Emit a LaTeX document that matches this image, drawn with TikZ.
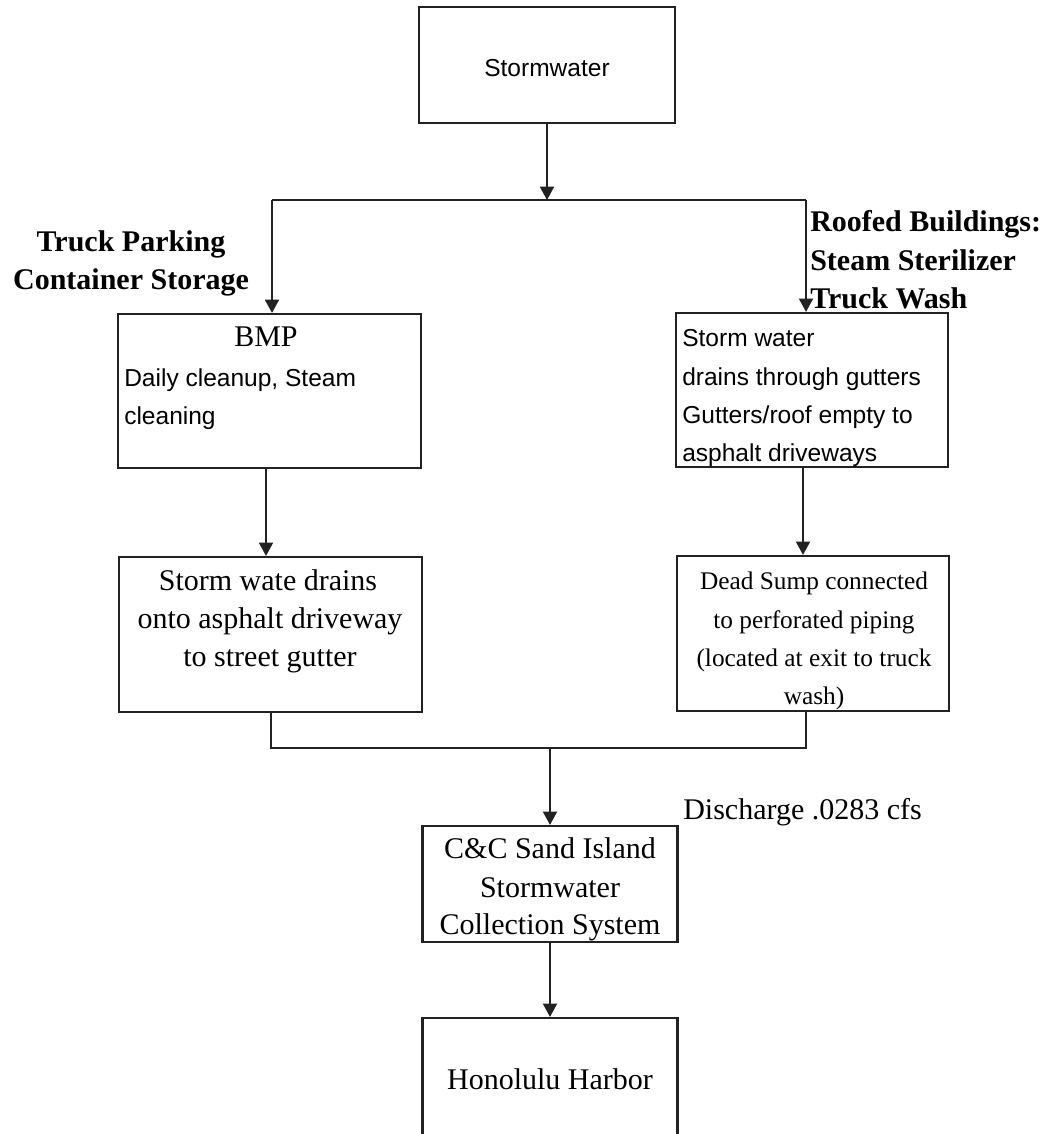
\documentclass[tikz,border=0pt]{standalone}
\usepackage{fontspec}
\setmainfont{Liberation Serif}
\setsansfont{Liberation Sans}
\usetikzlibrary{arrows.meta}
\definecolor{ink}{RGB}{34,34,34}
\tikzset{
  box/.style={draw=ink, line width=1.6pt, inner sep=0pt},
  conn/.style={draw=ink, line width=1.4pt},
  arr/.style={conn, -{Triangle[width=10.5pt,length=10pt]}},
  txt/.style={inner sep=0pt, yshift=-4.5pt},
  serif/.style={txt, font=\fontsize{22.5}{28.5}\selectfont\rmfamily},
  serifsm/.style={txt, font=\fontsize{19}{28.5}\selectfont\rmfamily},
  sans/.style={txt, font=\fontsize{18.4}{28.5}\selectfont\sffamily},
  boldlbl/.style={txt, font=\fontsize{22.5}{28.5}\selectfont\rmfamily\bfseries},
}
\begin{document}
\begin{tikzpicture}[x=0.75pt, y=-0.75pt]
\useasboundingbox (0,0) rectangle (1049,1134);
% boxes
\node[box, minimum width=256*0.75pt, minimum height=116*0.75pt] (top) at (547,65) {};
\node[box, minimum width=303*0.75pt, minimum height=154*0.75pt] (bmp) at (269.5,391) {};
\node[box, minimum width=272*0.75pt, minimum height=154*0.75pt] (roof) at (812,390) {};
\node[box, minimum width=303*0.75pt, minimum height=155*0.75pt] (drive) at (270.5,634.5) {};
\node[box, minimum width=272*0.75pt, minimum height=155*0.75pt] (sump) at (813,633.5) {};
\node[box, minimum width=255*0.75pt, minimum height=116*0.75pt] (cc) at (550,884) {};
\node[box, minimum width=255*0.75pt, minimum height=118*0.75pt] (harbor) at (550,1077) {};
% texts
\node[sans, anchor=mid] (topT) at (547,67) {Stormwater};
\node[boldlbl, anchor=mid] (lblL1) at (131,242) {Truck Parking};
\node[boldlbl, anchor=mid] (lblL2) at (131,280) {Container Storage};
\node[boldlbl, anchor=mid west] (lblR1) at (810,222) {Roofed Buildings:};
\node[boldlbl, anchor=mid west] (lblR2) at (810,261) {Steam Sterilizer};
\node[boldlbl, anchor=mid west] (lblR3) at (810,299) {Truck Wash};
\node[serif, anchor=mid] (bmpT1) at (266,337) {BMP};
\node[sans, anchor=mid west] (bmpT2) at (124,377) {Daily cleanup, Steam};
\node[sans, anchor=mid west] (bmpT3) at (124,415) {cleaning};
\node[sans, anchor=mid west] (roofT1) at (682,337) {Storm water};
\node[sans, anchor=mid west] (roofT2) at (682,376) {drains through gutters};
\node[sans, anchor=mid west] (roofT3) at (682,414) {Gutters/roof empty to};
\node[sans, anchor=mid west] (roofT4) at (682,452) {asphalt driveways};
\node[serif, anchor=mid] (driveT1) at (268,581) {Storm wate drains};
\node[serif, anchor=mid] (driveT2) at (270,619) {onto asphalt driveway};
\node[serif, anchor=mid] (driveT3) at (270,657) {to street gutter};
\node[serifsm, anchor=mid] (sumpT1) at (814,580) {Dead Sump connected};
\node[serifsm, anchor=mid] (sumpT2) at (814,619) {to perforated piping};
\node[serifsm, anchor=mid] (sumpT3) at (814,657) {(located at exit to truck};
\node[serifsm, anchor=mid] (sumpT4) at (814,695) {wash)};
\node[serif, anchor=mid west] (dis) at (683,810) {Discharge .0283 cfs};
\node[serif, anchor=mid] (ccT1) at (550,849) {C\&C Sand Island};
\node[serif, anchor=mid] (ccT2) at (550,888) {Stormwater};
\node[serif, anchor=mid] (ccT3) at (550,925) {Collection System};
\node[serif, anchor=mid] (harborT) at (550,1080) {Honolulu Harbor};
% connectors
\coordinate (jl) at (272,200);
\coordinate (jr) at (806,200);
\coordinate (jm) at (547,200);
\coordinate (bl) at (271,748);
\coordinate (br) at (806,748);
\coordinate (bm) at (550,748);
\draw[arr] (top.south) -- (jm);
\draw[conn] (jl) -- (jr);
\draw[arr] (jl) -- (jl |- bmp.north);
\draw[arr] (jr) -- (jr |- roof.north);
\draw[arr] (bmp.south -| 266,0) -- (266,0 |- drive.north);
\draw[arr] (roof.south -| 803,0) -- (803,0 |- sump.north);
\draw[conn] (bl |- drive.south) -- (bl) -- (br) -- (br |- sump.south);
\draw[arr] (bm) -- (bm |- cc.north);
\draw[arr] (cc.south) -- (harbor.north);
\end{tikzpicture}
\end{document}
